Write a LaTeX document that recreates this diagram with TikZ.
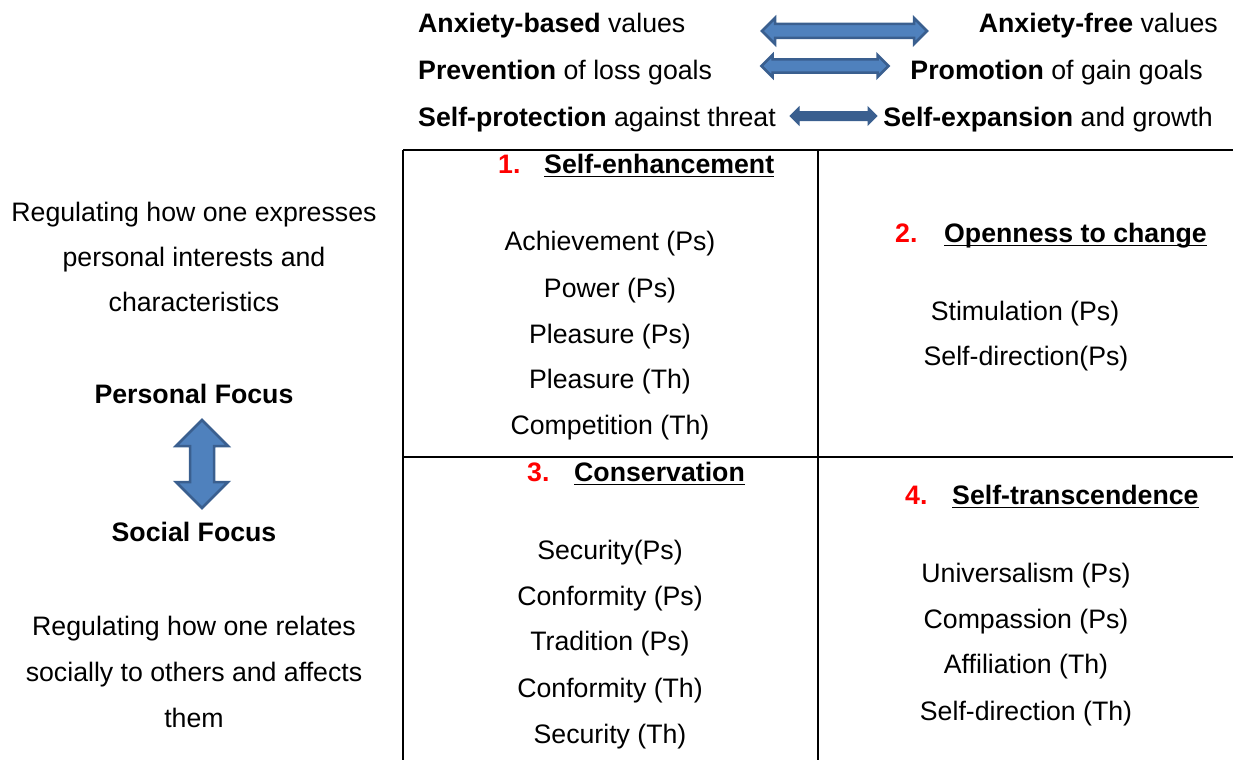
\documentclass[tikz,border=0pt]{standalone}
\usepackage{fontspec}
\setmainfont{Liberation Sans}
\usepackage{xcolor}
\usepackage{tikz}
\usetikzlibrary{shapes.arrows}
\definecolor{arrowline}{HTML}{3A5F8F}
\definecolor{arrowfill}{HTML}{4F81BD}
\tikzstyle{txt}=[inner sep=0pt,anchor=base]
\tikzstyle{num}=[inner sep=0pt,anchor=base west,text=red,font=\bfseries]
\tikzstyle{title}=[inner sep=0pt,anchor=base west,font=\bfseries]
\tikzstyle{grid}=[draw,line width=2pt]
\tikzstyle{uline}=[draw,line width=1.8pt]
\tikzstyle{dblarrow}=[double arrow,draw=arrowline,fill=arrowfill,line width=2.5pt,inner xsep=0pt]
\tikzstyle{solidarrow}=[double arrow,draw=arrowline,fill=arrowline,line width=1pt,inner xsep=0pt]

\begin{document}
\fontsize{26.7}{32}\selectfont
\begin{tikzpicture}[x=1pt,y=-1pt]
 \useasboundingbox (0,0) rectangle (1233,760);

 %value pairs on top
 \node[txt,anchor=base west] (aL) at (418,33) {\textbf{Anxiety-based} values};
 \node[txt,anchor=base west] (pL) at (418,79) {\textbf{Prevention} of loss goals};
 \node[txt,anchor=base west] (sL) at (418,126) {\textbf{Self-protection} against threat};
 \node[txt,anchor=base east] (aR) at (1218,33) {\textbf{Anxiety-free} values};
 \node[txt,anchor=base east] (pR) at (1203,79) {\textbf{Promotion} of gain goals};
 \node[txt,anchor=base east] (sR) at (1213,126) {\textbf{Self-expansion} and growth};

 \node[dblarrow,inner ysep=5.75pt,double arrow head extend=6pt,minimum height=165pt] (arA) at (844.5,31) {};
 \node[dblarrow,inner ysep=5.25pt,double arrow head extend=4.5pt,minimum height=127pt] (arP) at (825,66) {};
 \node[solidarrow,inner ysep=4pt,double arrow head extend=4.5pt,minimum height=87pt] (arS) at (833.5,116) {};

 %left column
 \foreach \x/\y/\name/\label in {194/221/e1/Regulating how one expresses, 194/266/e2/personal interests and, 194/311/e3/characteristics,
   194/635/r1/Regulating how one relates, 194/681/r2/socially to others and affects, 194/727/r3/them}
   \node[txt] (\name) at (\x,\y) {\label};
 \node[txt,font=\bfseries] (pers) at (194,403) {Personal Focus};
 \node[txt,font=\bfseries] (soc) at (194,541) {Social Focus};
 \node[dblarrow,rotate=90,inner ysep=10.75pt,double arrow head extend=14pt,minimum height=88pt] (arF) at (202,464) {};

 %grid
 \coordinate (gTL) at (403,150);
 \coordinate (gTR) at (1233,150);
 \coordinate (gML) at (403,457);
 \coordinate (gMR) at (1233,457);
 \coordinate (gBL) at (403,760);
 \coordinate (gT) at (818,150);
 \coordinate (gB) at (818,760);
 \path[grid] (gTL) -- (gTR);
 \path[grid] (gML) -- (gMR);
 \path[grid] (gTL) -- (gBL);
 \path[grid] (gT) -- (gB);

 %headings
 \foreach \x/\y/\name/\label in {498/173/n1/1., 895/242/n2/2., 527/481/n3/3., 905/504/n4/4.}
   \node[num] (\name) at (\x,\y) {\label};
 \foreach \x/\y/\name/\label in {544/173/t1/Self-enhancement, 944/242/t2/Openness to change, 574/481/t3/Conservation, 952/504/t4/Self-transcendence}
   \node[title] (\name) at (\x,\y) {\label};
 \foreach \name in {t1,t2,t3,t4}
   \path[uline] ([yshift=-3.5pt]\name.base west) -- ([yshift=-3.5pt]\name.base east);

 %B1
 \foreach \x/\y/\name/\label in {610/250/v11/Achievement (Ps), 610/297/v12/Power (Ps), 610/343/v13/Pleasure (Ps), 610/388/v14/Pleasure (Th), 610/434/v15/Competition (Th)}
   \node[txt] (\name) at (\x,\y) {\label};
 %B2
 \foreach \x/\y/\name/\label in {1025/320/v21/Stimulation (Ps), 1026/365/v22/Self-direction(Ps)}
   \node[txt] (\name) at (\x,\y) {\label};
 %B3
 \foreach \x/\y/\name/\label in {610/559/v31/Security(Ps), 610/605/v32/Conformity (Ps), 610/650/v33/Tradition (Ps), 610/697/v34/Conformity (Th), 610/743/v35/Security (Th)}
   \node[txt] (\name) at (\x,\y) {\label};
 %B4
 \foreach \x/\y/\name/\label in {1026/582/v41/Universalism (Ps), 1026/628/v42/Compassion (Ps), 1026/673/v43/Affiliation (Th), 1026/720/v44/Self-direction (Th)}
   \node[txt] (\name) at (\x,\y) {\label};

\end{tikzpicture}
\end{document}
